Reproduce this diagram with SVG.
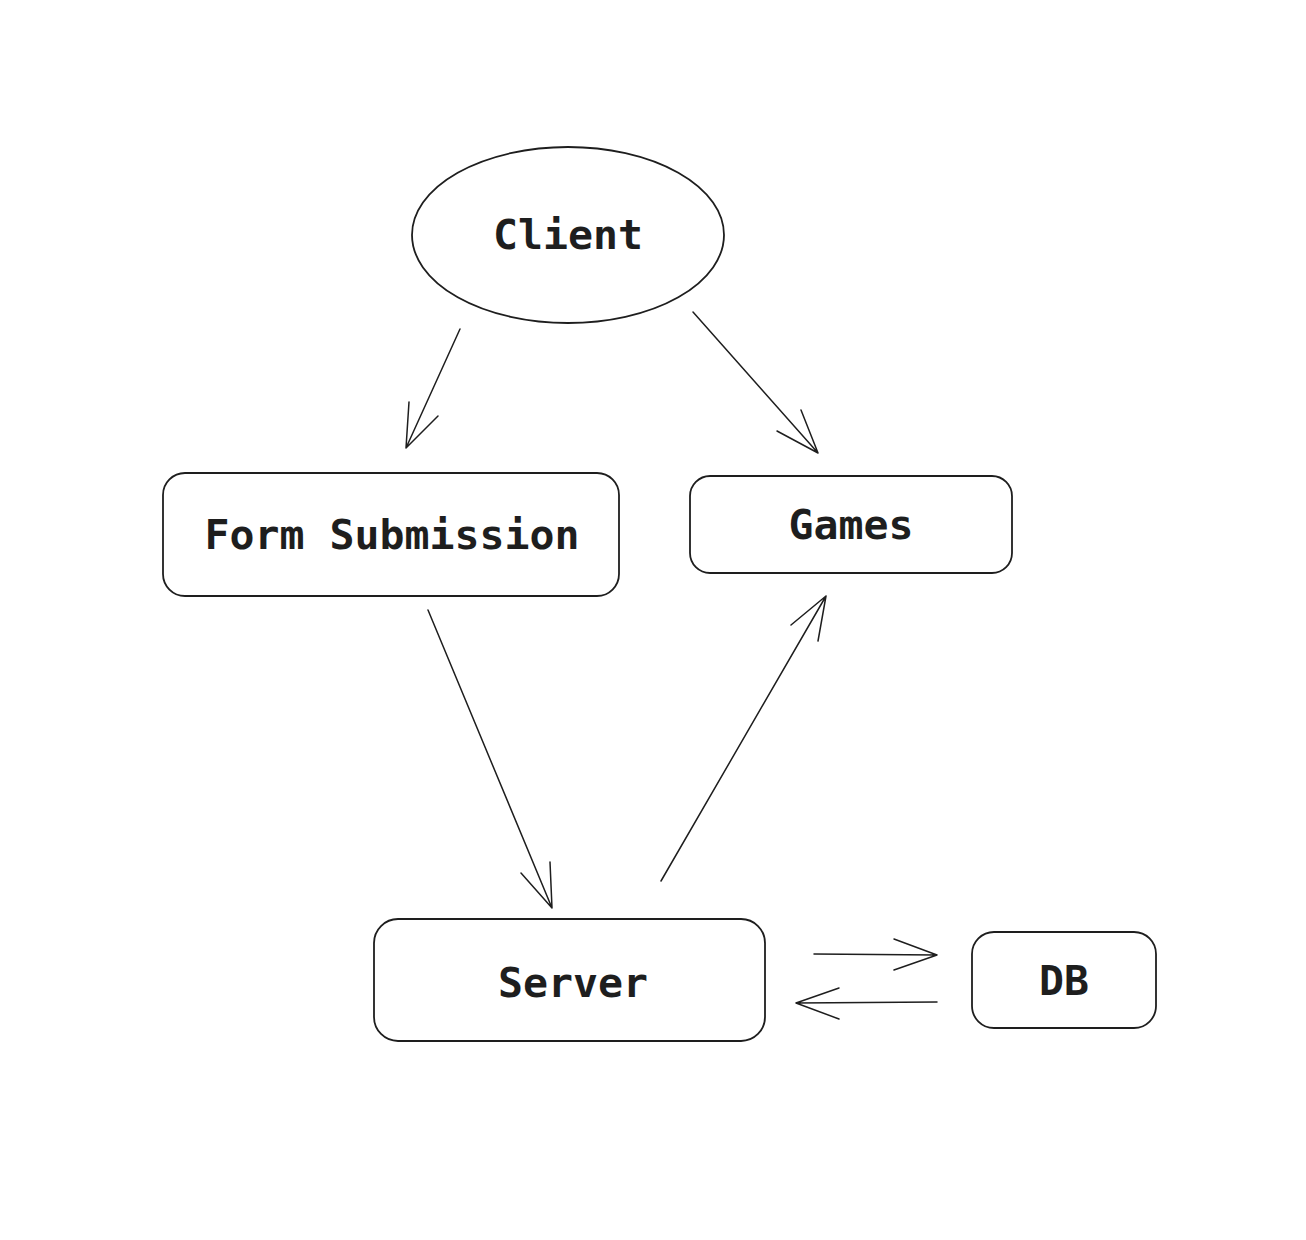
<svg xmlns="http://www.w3.org/2000/svg" width="1306" height="1240" viewBox="0 0 1306 1240">
<style>
.n{fill:#fff;stroke:#1e1e1e;stroke-width:1.8}
.t{font-family:"DejaVu Sans Mono","Liberation Mono",monospace;font-weight:bold;font-size:41.5px;fill:#1e1e1e;text-anchor:middle}
.c{fill:none;stroke:#1e1e1e;stroke-width:1.5;stroke-linecap:round;stroke-linejoin:round}
</style>
<rect width="1306" height="1240" fill="#fff"/>
<g id="client"><ellipse class="n" cx="568" cy="235" rx="156" ry="88"/><text class="t" x="568" y="249">Client</text></g>
<g id="form"><rect class="n" x="163" y="473" width="456" height="123" rx="22"/><text class="t" x="392" y="549">Form Submission</text></g>
<g id="games"><rect class="n" x="690" y="476" width="322" height="97" rx="20"/><text class="t" x="851" y="539">Games</text></g>
<g id="server"><rect class="n" x="374" y="919" width="391" height="122" rx="24"/><text class="t" x="573" y="997">Server</text></g>
<g id="db"><rect class="n" x="972" y="932" width="184" height="96" rx="22"/><text class="t" x="1064" y="995">DB</text></g>
<g id="connectors">
<path class="c" d="M460 329L406 448M409 402L406 448L438 416"/>
<path class="c" d="M693 312L818 453M801 410L818 453L777 431"/>
<path class="c" d="M428 610L552 908M550 862L552 908L521 873"/>
<path class="c" d="M661 881L826 596M791 625L826 596L818 641"/>
<path class="c" d="M814 954L937 955M894 939L937 955L894 970"/>
<path class="c" d="M937 1002L796 1003M839 988L796 1003L839 1019"/>
</g>
</svg>
